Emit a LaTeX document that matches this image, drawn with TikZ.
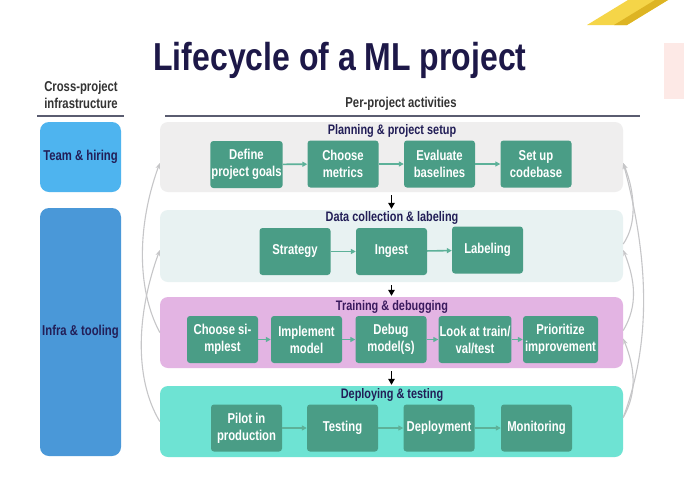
\documentclass[tikz,border=0pt]{standalone}
\usepackage{fontspec}
\setmainfont[FakeStretch=0.79]{Liberation Sans}
\newfontfamily\titlefont[FakeStretch=0.82]{Liberation Sans}
\usetikzlibrary{arrows.meta}
\definecolor{titlec}{HTML}{1D1848}
\definecolor{navy}{HTML}{221E57}
\definecolor{purp}{HTML}{3A1A5E}
\definecolor{hdrc}{HTML}{333333}
\definecolor{rulec}{HTML}{5A5C70}
\definecolor{teamc}{HTML}{4EB4EF}
\definecolor{infrac}{HTML}{4A98D8}
\definecolor{planc}{HTML}{EFEEEE}
\definecolor{datac}{HTML}{E8F2F2}
\definecolor{trainc}{HTML}{E3B4E3}
\definecolor{deployc}{HTML}{6EE3D3}
\definecolor{innerc}{HTML}{4A9D86}
\definecolor{arrowc}{HTML}{5DB199}
\definecolor{fbc}{HTML}{C6C6C8}
\definecolor{stripeY}{HTML}{F5D548}
\definecolor{stripeD}{HTML}{DDB423}
\definecolor{pinkbg}{HTML}{FDE9E6}
\tikzset{
  lbl/.style={font=\bfseries\fontsize{14.3}{17}\selectfont},
  hdr/.style={lbl, text=hdrc, align=center, inner sep=0pt},
  rulel/.style={draw=rulec, line width=1.8pt},
  secbox/.style={rounded corners=8pt, minimum width=463pt, inner sep=0pt},
  sectitle/.style={font=\bfseries\fontsize{13.8}{16}\selectfont, text=navy, inner sep=0pt},
  inbox/.style={lbl, fill=innerc, rounded corners=3pt, text=white, align=center,
                minimum width=71pt, minimum height=47pt, inner sep=1pt},
  infrabox/.style={lbl, text=navy, rounded corners=9pt, minimum width=81pt, inner sep=0pt},
  ia/.style={draw=arrowc, line width=1.6pt, -{Triangle[length=5pt,width=5pt]}},
  da/.style={draw=black, line width=1.4pt, -{Triangle[length=6pt,width=6.5pt]}, shorten <=3pt, shorten >=1pt},
  fb/.style={draw=fbc, line width=1.1pt, -{Stealth[length=6pt,width=4.5pt]}}
}
\begin{document}
\begin{tikzpicture}[x=1pt,y=-1pt]
\useasboundingbox (0,0) rectangle (684,483);
\fill[white] (0,0) rectangle (684,483);
% background decorations
\fill[stripeY] (587,25) -- (628,0) -- (668,0) -- (627,25) -- cycle;
\fill[stripeD] (614,25) -- (655,0) -- (668,0) -- (627,25) -- cycle;
\fill[pinkbg] (664,43) rectangle (684,99);
% title
\node[font=\titlefont\bfseries\fontsize{39}{44}\selectfont, text=titlec, anchor=base, inner sep=0pt] (title) at (340,70) {Lifecycle of a ML project};
% headers
\node[hdr] (cross) at (81,94.5) {Cross-project\\infrastructure};
\node[hdr] (per) at (401,104) {Per-project activities};
\coordinate (r1a) at (37,116); \coordinate (r1b) at (124,116);
\coordinate (r2a) at (165,116); \coordinate (r2b) at (640,116);
\draw[rulel] (r1a) -- (r1b);
\draw[rulel] (r2a) -- (r2b);
% cross-project boxes
\node[infrabox, fill=teamc, minimum height=70pt] (team) at (80.5,157) {Team \& hiring};
\node[infrabox, fill=infrac, minimum height=248pt] (infra) at (80.5,332) {Infra \& tooling};
% section boxes
\node[secbox, fill=planc, minimum height=70pt] (plan) at (391.5,157) {};
\node[secbox, fill=datac, minimum height=72pt] (data) at (391.5,246) {};
\node[secbox, fill=trainc, minimum height=71pt] (train) at (391.5,332.5) {};
\node[secbox, fill=deployc, minimum height=71pt] (deploy) at (391.5,421.5) {};
% section titles
\node[sectitle] (tplan) at (392,131) {Planning \& project setup};
\node[sectitle] (tdata) at (392,218) {Data collection \& labeling};
\node[sectitle, text=purp] (ttrain) at (392,307) {Training \& debugging};
\node[sectitle] (tdeploy) at (392,395) {Deploying \& testing};
% planning
\node[inbox] (p1) at (246.5,164.5) {Define\\project goals};
\node[inbox] (p2) at (343,164) {Choose\\metrics};
\node[inbox] (p3) at (439.5,164) {Evaluate\\baselines};
\node[inbox] (p4) at (536,164) {Set up\\codebase};
% data
\node[inbox] (d1) at (295,251.5) {Strategy};
\node[inbox] (d2) at (391.5,251.5) {Ingest};
\node[inbox] (d3) at (487.5,250) {Labeling};
% training
\node[inbox] (t1) at (222.5,339.5) {Choose si-\\mplest};
\node[inbox] (t2) at (306.5,339.5) {Implement\\model};
\node[inbox] (t3) at (391,339.5) {Debug\\model(s)};
\node[inbox] (t4) at (475,339.5) {Look at train/\\val/test};
\node[inbox, minimum width=75pt] (t5) at (560.5,339.5) {Prioritize\\improvement};
% deploying
\node[inbox] (e1) at (246.5,428) {Pilot in\\production};
\node[inbox] (e2) at (342.5,428) {Testing};
\node[inbox] (e3) at (439,428) {Deployment};
\node[inbox] (e4) at (536.5,428) {Monitoring};
% inner arrows
\draw[ia] (p1) -- (p2); \draw[ia] (p2) -- (p3); \draw[ia] (p3) -- (p4);
\draw[ia] (d1) -- (d2); \draw[ia] (d2) -- (d3);
\draw[ia] (t1) -- (t2); \draw[ia] (t2) -- (t3); \draw[ia] (t3) -- (t4); \draw[ia] (t4) -- (t5);
\draw[ia] (e1) -- (e2); \draw[ia] (e2) -- (e3); \draw[ia] (e3) -- (e4);
% down arrows
\draw[da] (plan) -- (data);
\draw[da] (data) -- (train);
\draw[da] (train) -- (deploy);
% feedback curves, left
\draw[fb] (train.west) .. controls +(-24,-45) and +(-22,60) .. ([yshift=-6pt]plan.west);
\draw[fb] (deploy.west) .. controls +(-27,-45) and +(-22,60) .. ([yshift=-4pt]data.west);
% feedback curves, right
\draw[fb] ([yshift=2pt]data.east) .. controls +(14,-20) and +(12,30) .. ([yshift=-6pt]plan.east);
\draw[fb] ([yshift=2pt]train.east) .. controls +(15,-25) and +(12,30) .. ([yshift=-4pt]data.east);
\draw[fb] ([yshift=4pt]deploy.east) .. controls +(14,-25) and +(12,30) .. ([yshift=-6pt]train.east);
\draw[fb] ([yshift=4pt]deploy.east) .. controls +(30,-80) and +(24,90) .. ([yshift=-6pt]plan.east);
\end{tikzpicture}
\end{document}
